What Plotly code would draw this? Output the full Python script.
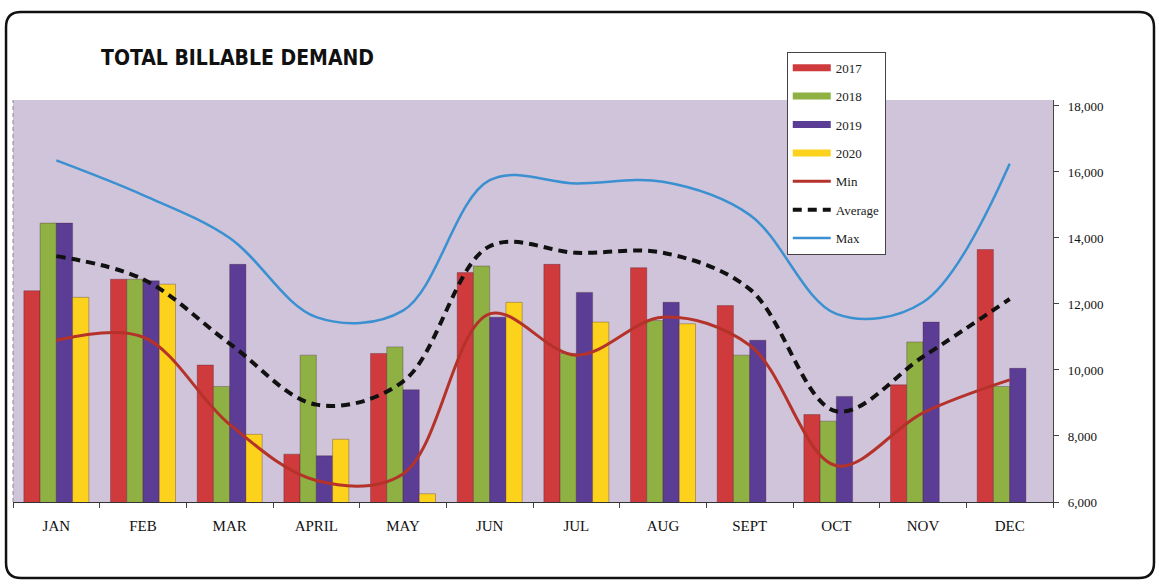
import plotly.graph_objects as go

months = ["JAN", "FEB", "MAR", "APRIL", "MAY", "JUN", "JUL", "AUG", "SEPT", "OCT", "NOV", "DEC"]

y2017 = [12400, 12750, 10150, 7450, 10500, 12950, 13200, 13100, 11950, 8650, 9550, 13650]
y2018 = [14450, 12750, 9500, 10450, 10700, 13150, 10500, 11500, 10450, 8450, 10850, 9500]
y2019 = [14450, 12700, 13200, 7400, 9400, 11600, 12350, 12050, 10900, 9200, 11450, 10050]
y2020 = [12200, 12600, 8050, 7900, 6250, 12050, 11450, 11400, None, None, None, None]

y_min = [10900, 11000, 8350, 6650, 6850, 11700, 10450, 11600, 10750, 7100, 8700, 9700]
y_avg = [13450, 12750, 10800, 8950, 9650, 13750, 13550, 13550, 12450, 8750, 10400, 12150]
y_max = [16350, 15300, 14000, 11600, 11800, 15750, 15650, 15700, 14700, 11700, 12050, 16250]

y_ticks = [6000, 8000, 10000, 12000, 14000, 16000, 18000]

bar_series = [("2017", y2017, "#cf3a3c"), ("2018", y2018, "#8fb043"),
              ("2019", y2019, "#5c3d96"), ("2020", y2020, "#fdd21c")]

fig = go.Figure()

for name, vals, col in bar_series:
    fig.add_trace(go.Bar(x=months, y=vals, name=name, marker_color=col,
                         marker_line=dict(color="rgba(60,20,40,0.5)", width=0.6),
                         showlegend=False))

# legend entries drawn as thick strokes like the original
for name, vals, col in bar_series:
    fig.add_trace(go.Scatter(x=[None], y=[None], mode="lines", name=name,
                             line=dict(color=col, width=7), legendgroup=name))

fig.add_trace(go.Scatter(x=months, y=y_min, name="Min", mode="lines", legendgroup="min",
                         line=dict(color="#b5322a", width=3, shape="spline")))
fig.add_trace(go.Scatter(x=months, y=y_avg, name="Average", mode="lines", legendgroup="avg",
                         line=dict(color="#111111", width=4, shape="spline", dash="9px,6px")))
fig.add_trace(go.Scatter(x=months, y=y_max, name="Max", mode="lines", legendgroup="max",
                         line=dict(color="#3a90d0", width=2.5, shape="spline")))

fig.update_layout(
    width=1159, height=588,
    margin=dict(l=13, r=106, t=100, b=86),
    paper_bgcolor="white",
    plot_bgcolor="#cfc4d9",
    barmode="group",
    bargap=0.25,
    bargroupgap=0,
    font=dict(family="Liberation Serif, Times New Roman, serif", color="#222"),
    legend=dict(
        x=0.744, y=1.12, xanchor="left", yanchor="top",
        bgcolor="white", bordercolor="#444", borderwidth=1,
        font=dict(family="Liberation Serif, Times New Roman, serif", size=13, color="#222"),
        tracegroupgap=8.5, traceorder="grouped", itemwidth=38,
    ),
)

fig.update_xaxes(
    showline=True, linecolor="#333", linewidth=1.2,
    ticks="outside", tickson="boundaries", ticklen=5, tickcolor="#444",
    tickfont=dict(size=15, color="#111"), ticklabelstandoff=10,
    showgrid=False,
)
fig.update_yaxes(
    side="right", range=[6000, 18180],
    tickvals=y_ticks, tickformat=",",
    showline=True, linecolor="#444", linewidth=1.2,
    ticks="outside", ticklen=5, tickcolor="#444",
    tickfont=dict(size=13, color="#111"), ticklabelstandoff=6,
    showgrid=False, zeroline=False,
)

fig.add_annotation(
    xref="paper", yref="paper", x=0.083, y=1.105,
    xanchor="left", yanchor="middle", showarrow=False,
    text="<b>TOTAL BILLABLE DEMAND</b>",
    font=dict(family="Liberation Sans Narrow, DejaVu Sans Condensed, Arial Narrow, sans-serif",
              size=21, color="#111"),
)

# dashed left edge of the plot area
fig.add_shape(type="line", xref="paper", yref="paper", x0=0, x1=0, y0=0, y1=1,
              line=dict(color="#8a8a8a", width=1, dash="4px,3px"))

# rounded outer frame
x0, x1, yt, yb = -0.0067, 1.0971, 1.2189, -0.189
rx, ry = 0.0144, 0.0373
frame = (f"M {x0+rx},{yt} L {x1-rx},{yt} Q {x1},{yt} {x1},{yt-ry} "
         f"L {x1},{yb+ry} Q {x1},{yb} {x1-rx},{yb} L {x0+rx},{yb} "
         f"Q {x0},{yb} {x0},{yb+ry} L {x0},{yt-ry} Q {x0},{yt} {x0+rx},{yt} Z")
fig.add_shape(type="path", xref="paper", yref="paper", path=frame,
              line=dict(color="#111", width=2.5), layer="below")

# page body margin would shift the chart; remove it
fig.write_html("out.html", config={"displayModeBar": False},
               post_script="document.body.style.margin='0';")
